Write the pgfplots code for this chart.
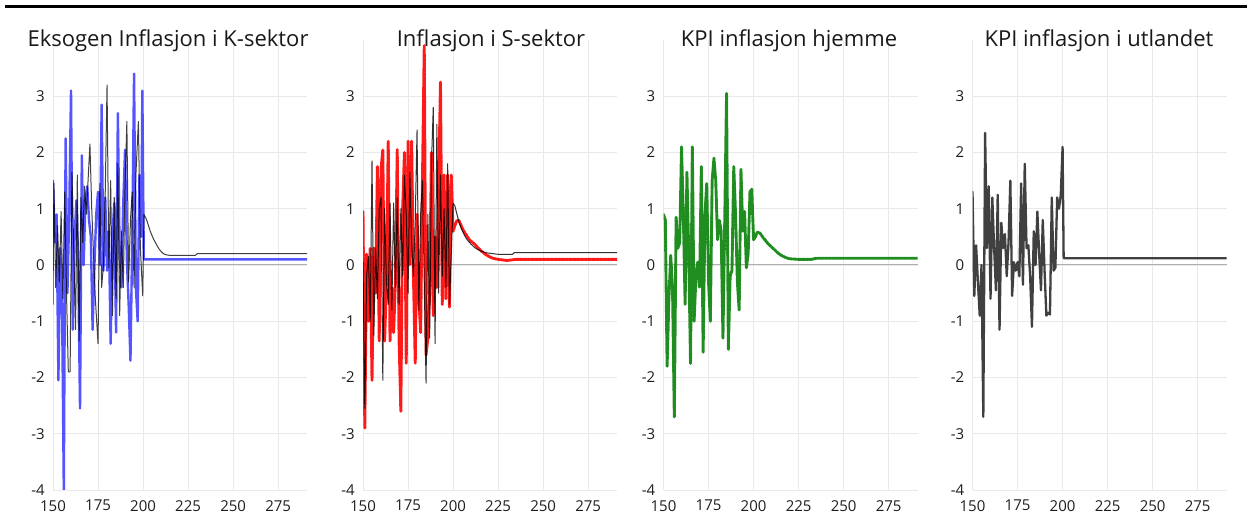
\documentclass[border=0pt]{standalone}
\usepackage{fontspec}
\setmainfont{Open Sans}
\usepackage{pgfplots}
\pgfplotsset{compat=1.18}
\definecolor{gridc}{RGB}{233,233,233}
\definecolor{zeroc}{RGB}{175,175,175}
\definecolor{tickc}{RGB}{30,30,30}
\definecolor{blueL}{RGB}{55,55,255}
\definecolor{redL}{RGB}{255,0,0}
\definecolor{greenL}{RGB}{20,135,20}
\definecolor{grayL}{RGB}{64,64,64}
\pgfplotsset{panel/.style={
  scale only axis, width=254pt, height=450pt,
  xmin=150, xmax=291, ymin=-4, ymax=4,
  xtick={150,175,...,275}, ytick={-4,-3,...,3},
  grid=major, major grid style={gridc, line width=0.9pt},
  extra y ticks={0}, extra y tick labels={},
  extra y tick style={grid=major, major grid style={zeroc, line width=1pt}},
  axis line style={draw=none}, major tick style={draw=none},
  tick label style={font=\fontsize{15}{17}\selectfont, text=tickc},
  /pgf/number format/assume math mode=true,
  xticklabel style={anchor=north, inner sep=0pt, yshift=-10pt},
  yticklabel style={anchor=east, inner sep=0pt, xshift=-8pt},
  anchor=south west, clip=true,
  every axis plot/.append style={line join=round, line cap=round, mark=none}
}}
\begin{document}
\begin{tikzpicture}
\path[use as bounding box] (0pt,0pt) rectangle (1250pt,526pt);
\draw[black, line width=3pt] (5pt,519.5pt) -- (1247pt,519.5pt);
% Panel 1
\begin{axis}[panel, at={(53pt,36pt)}]
\addplot[blueL, opacity=0.85, line width=2.4pt] coordinates {
(150,1.5)(151,0.4)(152,0.9)(153,-2.05)(154,0.3)(155,-0.6)(156,-4.0)(157,2.25)(158,-0.5)(159,0.9)
(160,3.1)(161,-1.15)(162,0.5)(163,1.15)(164,0.0)(165,-2.55)(166,1.95)(167,0.0)(168,1.15)(169,1.4)
(170,0.8)(171,0.5)(172,-1.15)(173,0.0)(174,0.9)(175,1.3)(176,0.0)(177,2.85)(178,-0.1)(179,1.2)
(180,-0.1)(181,0.6)(182,-1.4)(183,0.5)(184,1.1)(185,-1.2)(186,2.7)(187,0.2)(188,-0.4)(189,1.1)
(190,2.05)(191,0.1)(192,-0.7)(193,-1.7)(194,0.5)(195,3.4)(196,-0.4)(197,-1.0)(198,1.6)(199,0.5)
(199.6,3.1)(200.4,0.1)(291,0.1)};
\addplot[black, opacity=0.75, line width=1pt] coordinates {
(150,-0.7)(150.5,1.45)(151.5,-0.4)(152.5,0.7)(153.5,-0.3)(154.5,0.95)(155.5,-0.6)(156.5,1.3)(157.5,-0.5)(158.5,-1.9)
(159.5,-1.9)(160.5,1.65)(161.5,0.3)(162.5,-1.15)(163.5,1.6)(164.5,-1.35)(165.5,1.2)(166.5,0.4)(167.5,1.4)(168.5,0.9)
(170.5,2.15)(171.5,1.0)(172.5,0.2)(173.5,-0.6)(175,-1.4)(176,1.45)(177,-0.4)(178,0.0)(179,1.3)(180,3.2)
(181,-0.05)(182,1.5)(183,-0.9)(184,1.2)(185,-0.6)(186,1.8)(187,-0.9)(188,0.6)(189,-0.4)(190,1.4)
(191,2.55)(192,-0.3)(193,0.8)(194,1.3)(195,-0.4)(196,1.6)(197.4,2.55)(198.5,0.3)(199.8,-0.55)(200.5,0.9)
(202,0.8)(203,0.7)(204,0.6)(205,0.52)(206,0.45)(207,0.39)(208,0.33)(209,0.28)(210,0.24)(211,0.21)
(212,0.19)(213,0.18)(215,0.17)(229,0.17)(230,0.2)(291,0.2)};
\end{axis}
% Panel 2
\begin{axis}[panel, at={(363pt,36pt)}]
\addplot[redL, opacity=0.9, line width=2.9pt, dash pattern=on 3pt off 0.8pt] coordinates {
(150,0.95)(151,-2.9)(152,0.2)(153,-1.0)(154,0.3)(155,-2.05)(156,0.3)(157,-0.5)(158,1.75)(159,-1.35)
(160,1.7)(161,2.05)(162,-1.35)(163,-0.3)(164,2.2)(165,-1.35)(166,-0.4)(167,-1.2)(168,-0.3)(169,2.05)
(170,-1.3)(171,-2.6)(172,1.0)(173,2.0)(174,-1.75)(175,2.2)(176,0.0)(177,2.2)(178,-0.2)(179,-1.75)
(180,0.9)(181,-0.6)(182,-1.2)(183,1.5)(184,3.9)(185,-1.6)(186,-1.3)(187,-0.5)(188,2.0)(189,-0.9)
(190,0.5)(191,-0.4)(192,1.4)(193,3.25)(194,-0.7)(195,1.6)(196,-0.6)(197,1.6)(198,-0.75)(199,1.6)
(200,0.6)(201,0.7)(202,0.78)(203,0.8)(204,0.74)(205,0.66)(206,0.6)(207,0.55)(208,0.5)(209,0.45)
(210,0.42)(212,0.37)(214,0.3)(216,0.24)(218,0.19)(220,0.15)(222,0.12)(225,0.1)(230,0.08)(235,0.1)(291,0.1)};
\addplot[black, opacity=0.8, line width=1pt] coordinates {
(150,0.05)(151,-2.55)(152,-0.2)(153,0.15)(154,-1.0)(155,1.85)(156,-1.25)(157,0.3)(158,-0.6)(159,1.0)
(160,1.2)(161,-2.05)(162,1.0)(163,-0.3)(164,-0.7)(165,1.1)(166,-0.8)(167,1.1)(168,-0.4)(169,1.2)
(170,-0.7)(171,1.0)(172,-0.2)(173,1.6)(174,0.9)(175,-0.5)(176,1.65)(177,0.4)(178,-0.2)(179,0.8)
(180,2.4)(181,-0.8)(182,0.9)(183,1.5)(184,-0.3)(185,-2.1)(186,0.9)(187,-1.3)(188,1.8)(189,2.8)
(190,-1.4)(191,2.5)(192,-0.5)(193,1.6)(194,-0.2)(195,1.0)(196,-0.4)(197,1.8)(198,-0.7)(199,0.2)
(200,1.1)(201,1.05)(202,0.92)(203,0.8)(204,0.7)(205,0.62)(206,0.55)(207,0.49)(208,0.44)(210,0.37)
(212,0.31)(214,0.27)(216,0.24)(218,0.22)(220,0.21)(225,0.19)(233,0.19)(234,0.22)(291,0.22)};
\end{axis}
% Panel 3
\begin{axis}[panel, at={(663.5pt,36pt)}]
\addplot[greenL, opacity=0.95, line width=2.9pt, dash pattern=on 3pt off 0.8pt] coordinates {
(150,0.9)(151,0.8)(152,-1.8)(153,-0.6)(154,0.17)(155,-0.4)(156,-2.7)(157,0.85)(158,0.3)(159,0.4)
(160,2.1)(161,0.9)(162,-0.7)(163,1.65)(164,0.2)(165,-1.75)(166,2.1)(167,-1.0)(168,-0.2)(169,0.05)
(170,-0.4)(171,1.75)(172,-1.55)(173,0.9)(174,1.45)(175,-0.3)(176,-1.0)(177,1.5)(178,1.9)(179,1.5)
(180,0.45)(181,0.8)(182,0.6)(183,-1.3)(184,0.8)(185,3.05)(186,-1.5)(187,-0.2)(188,-0.1)(189,1.75)
(190,0.9)(191,-0.3)(192,-0.8)(193,1.7)(194,0.6)(195,0.95)(196,-0.05)(197,0.2)(198,1.3)(199,1.35)
(200,0.45)(201,0.5)(202,0.58)(203,0.58)(204,0.55)(205,0.5)(206,0.46)(207,0.42)(208,0.38)(210,0.32)
(212,0.26)(214,0.2)(216,0.16)(218,0.13)(220,0.11)(225,0.1)(232,0.1)(235,0.12)(291,0.12)};
\end{axis}
% Panel 4
\begin{axis}[panel, at={(972.5pt,36pt)}]
\addplot[grayL, line width=2.3pt] coordinates {
(150,1.3)(151,-0.55)(152,0.35)(153,-0.3)(154,-0.9)(155,0.0)(156,-2.7)(157,2.35)(158,0.3)(159,1.4)
(160,-0.6)(161,1.2)(162,0.3)(163,-0.45)(164,1.25)(165,-1.15)(166,0.75)(167,0.3)(168,0.55)(169,-0.2)
(170,0.4)(171,1.5)(172,-0.55)(173,0.05)(174,-0.1)(175,0.05)(176,-0.2)(177,1.45)(178,-0.35)(179,1.8)
(180,0.3)(181,0.35)(182,-0.2)(183,-1.1)(184,0.6)(185,0.0)(186,0.95)(187,0.2)(188,-0.45)(189,0.8)
(190,-0.1)(191,-0.9)(192,-0.85)(193,-0.88)(194,1.2)(195,-0.1)(196,-0.05)(197,1.2)(198,1.0)(199,1.25)
(200,2.1)(200.6,0.12)(291,0.12)};
\end{axis}
% Titles
\node[anchor=base, font=\fontsize{22}{25}\selectfont, text=black!90] at (168pt,479pt) {Eksogen Inflasjon i K-sektor};
\node[anchor=base, font=\fontsize{22}{25}\selectfont, text=black!90] at (491pt,479pt) {Inflasjon i S-sektor};
\node[anchor=base, font=\fontsize{22}{25}\selectfont, text=black!90] at (789pt,479pt) {KPI inflasjon hjemme};
\node[anchor=base, font=\fontsize{22}{25}\selectfont, text=black!90] at (1099pt,479pt) {KPI inflasjon i utlandet};
\end{tikzpicture}
\end{document}
